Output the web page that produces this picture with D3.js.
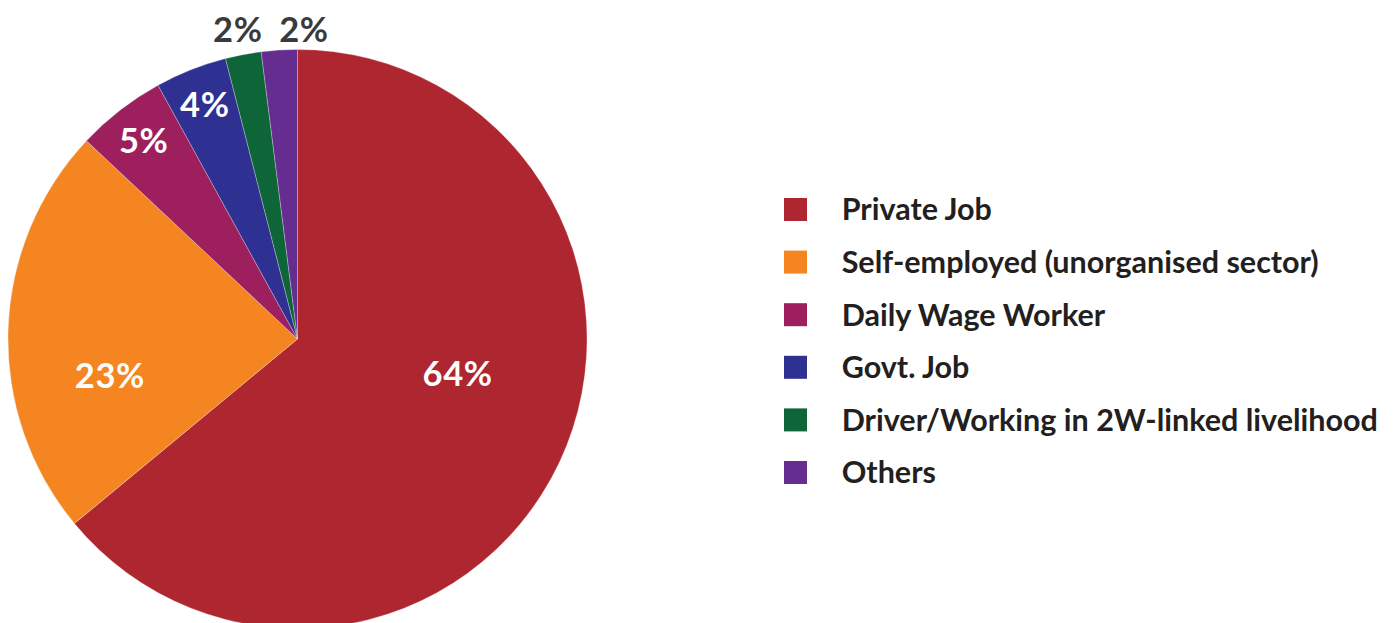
<!DOCTYPE html>
<html>
<head>
<meta charset="utf-8">
<script src="https://cdn.jsdelivr.net/npm/d3@7"></script>
<style>
  html, body { margin: 0; padding: 0; background: #ffffff; }
  svg { display: block; }
  text { font-family: Lato, "Open Sans", sans-serif; font-weight: 700; }
</style>
</head>
<body>
<svg id="chart" width="1398" height="623"></svg>
<script>
// Occupation mix of respondents
const categories = [
  "Private Job",
  "Self-employed (unorganised sector)",
  "Daily Wage Worker",
  "Govt. Job",
  "Driver/Working in 2W-linked livelihood",
  "Others"
];
const shares = [64, 23, 5, 4, 2, 2];
const valueLabels = ["64%", "23%", "5%", "4%", "2%", "2%"];
const sliceColors = ["#AE2630", "#F48521", "#9E1F5E", "#2E3192", "#0E6537", "#662D91"];

// Where each percentage sits: angle in degrees clockwise from 12 o'clock
// (null = middle of the slice) and distance as a fraction of the radius.
const labelLayout = [
  { angle: 102.3, dist: 0.566, outside: false },
  { angle: 259.1, dist: 0.66,  outside: false },
  { angle: null,  dist: 0.867, outside: false },
  { angle: null,  dist: 0.87,  outside: false },
  { angle: 349.1, dist: 1.09,  outside: true },
  { angle: 1.2,   dist: 1.07,  outside: true }
];

const svg = d3.select("#chart");
const cx = 297.5, cy = 339, radius = 289.5;
const legendFont = 30.5;
const pctFont = 34.5;

const color = d3.scaleOrdinal().domain(categories).range(sliceColors);

const pie = d3.pie().sort(null).value(d => d.value);
const arcs = pie(categories.map((c, i) => ({ name: c, value: shares[i], label: valueLabels[i] })));
const arc = d3.arc().innerRadius(0).outerRadius(radius);

const g = svg.append("g").attr("transform", `translate(${cx},${cy})`);

g.selectAll("path.slice")
  .data(arcs)
  .join("path")
  .attr("class", "slice")
  .attr("d", arc)
  .attr("fill", d => color(d.data.name))
  .attr("stroke", "#ffffff")
  .attr("stroke-opacity", 0.45)
  .attr("stroke-width", 0.6);

const labelPoint = (d, i) => {
  const L = labelLayout[i];
  const a = L.angle === null ? (d.startAngle + d.endAngle) / 2 : L.angle * Math.PI / 180;
  return [Math.sin(a) * L.dist * radius, -Math.cos(a) * L.dist * radius];
};

g.selectAll("text.pct")
  .data(arcs)
  .join("text")
  .attr("class", "pct")
  .attr("text-anchor", "middle")
  .attr("font-size", pctFont)
  .attr("letter-spacing", 0.6)
  .attr("fill", (d, i) => labelLayout[i].outside ? "#3a3a3a" : "#ffffff")
  .attr("x", (d, i) => labelPoint(d, i)[0])
  .attr("y", (d, i) => labelPoint(d, i)[1] + 0.72 * pctFont / 2)
  .text(d => d.data.label);

// Legend
const legendX = 784, legendTop = 209.5, rowGap = 52.6, swatch = 23, textX = 841.7;
const legendY = d3.scalePoint().domain(categories).range([legendTop, legendTop + rowGap * (categories.length - 1)]);

const legend = svg.append("g").attr("class", "legend");
const rows = legend.selectAll("g.row")
  .data(categories)
  .join("g")
  .attr("class", "row")
  .attr("transform", d => `translate(0,${legendY(d)})`);

rows.append("rect")
  .attr("x", legendX)
  .attr("y", -swatch / 2)
  .attr("width", swatch)
  .attr("height", swatch)
  .attr("fill", d => color(d));

rows.append("text")
  .attr("x", textX)
  .attr("y", 0.72 * legendFont / 2)
  .attr("font-size", legendFont)
  .attr("fill", "#231f20")
  .text(d => d);
</script>
</body>
</html>
